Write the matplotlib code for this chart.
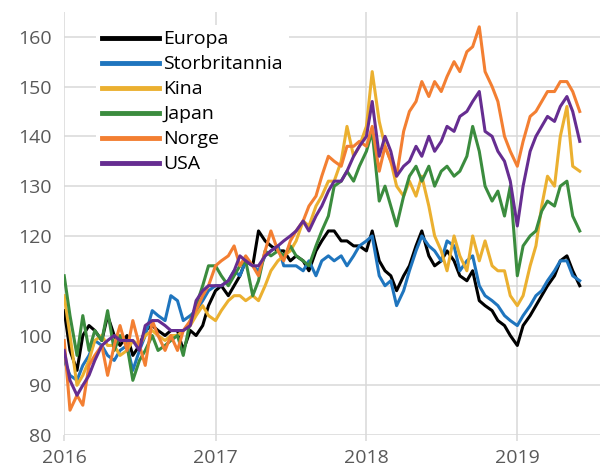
import numpy as np
import pandas as pd
import matplotlib
matplotlib.use('Agg')
import matplotlib.pyplot as plt
import matplotlib.dates as mdates

plt.rcParams['font.family'] = ['Open Sans', 'DejaVu Sans']

# indeks, halvmaanedlige observasjoner fra jan 2016
dates = pd.date_range('2016-01-01', periods=83, freq='SMS')

europa = [105, 97, 93, 100, 102, 101, 99, 104, 100, 98, 100, 96, 98, 101, 102, 101,
          100, 101, 101, 97, 101, 100, 102, 106, 109, 110, 108, 110, 112, 115, 114, 121,
          119, 118, 117, 117, 115, 116, 115, 113, 117, 119, 121, 121, 119, 119, 118, 118,
          117, 121, 115, 113, 112, 109, 112, 114, 118, 121, 116, 114, 115, 117, 115, 112,
          111, 113, 107, 106, 105, 103, 102, 100, 98, 102, 104, 106, 108, 110, 112, 115,
          116, 113, 110]
storbritannia = [95, 92, 91, 94, 96, 99, 98, 96, 95, 97, 98, 93, 97, 100, 105, 104,
                 103, 108, 107, 103, 104, 105, 107, 109, 110, 110, 111, 113, 112, 115, 114, 113,
                 116, 117, 118, 114, 114, 114, 113, 115, 112, 115, 116, 115, 116, 114, 116, 118,
                 119, 120, 112, 110, 111, 106, 109, 113, 117, 120, 118, 117, 115, 119, 118, 113,
                 115, 116, 110, 108, 107, 106, 104, 103, 102, 104, 106, 108, 109, 111, 113, 115,
                 115, 112, 111]
kina = [108, 100, 90, 92, 95, 99, 100, 98, 98, 96, 97, 99, 98, 100, 101, 100,
        99, 100, 100, 101, 102, 104, 106, 104, 103, 105, 107, 108, 108, 107, 108, 107,
        110, 113, 115, 116, 117, 119, 123, 122, 126, 128, 131, 131, 135, 142, 136, 138,
        142, 153, 143, 138, 135, 130, 128, 131, 128, 132, 126, 120, 117, 113, 120, 116,
        113, 120, 115, 119, 114, 113, 113, 108, 106, 108, 114, 118, 126, 132, 130, 140,
        146, 134, 133]
japan = [112, 104, 96, 104, 97, 101, 99, 105, 97, 100, 98, 91, 95, 97, 100, 97,
         98, 99, 100, 96, 103, 106, 110, 114, 114, 112, 110, 112, 114, 115, 108, 111,
         117, 116, 117, 116, 118, 116, 115, 114, 118, 121, 124, 130, 131, 133, 131, 134,
         137, 141, 127, 130, 126, 122, 128, 132, 134, 131, 134, 130, 133, 134, 132, 133,
         136, 142, 137, 130, 127, 129, 124, 130, 112, 118, 120, 121, 125, 127, 126, 130,
         131, 124, 121]
norge = [99, 85, 88, 86, 94, 96, 98, 92, 98, 102, 97, 103, 98, 94, 103, 100,
         97, 100, 97, 101, 103, 105, 108, 110, 114, 115, 116, 118, 114, 116, 114, 112,
         117, 121, 117, 115, 119, 121, 123, 126, 128, 132, 136, 135, 134, 138, 138, 139,
         138, 142, 133, 138, 135, 132, 141, 145, 147, 151, 148, 151, 149, 152, 155, 153,
         157, 158, 162, 153, 150, 147, 140, 137, 134, 139, 144, 145, 147, 149, 149, 151,
         151, 149, 145]
usa = [97, 91, 88, 90, 92, 95, 98, 99, 100, 99, 99, 99, 97, 102, 103, 103,
       102, 101, 101, 101, 102, 107, 109, 110, 110, 110, 111, 113, 116, 115, 114, 114,
       116, 117, 118, 119, 120, 121, 123, 121, 124, 126, 129, 131, 131, 133, 136, 138,
       140, 147, 136, 140, 137, 132, 134, 135, 138, 136, 140, 137, 139, 142, 141, 144,
       145, 147, 149, 141, 140, 137, 135, 131, 122, 130, 137, 140, 142, 144, 143, 146,
       148, 145, 139]

series = [('Europa', europa, '#000000'),
          ('Storbritannia', storbritannia, '#1f75be'),
          ('Kina', kina, '#ebb030'),
          ('Japan', japan, '#3b8c3e'),
          ('Norge', norge, '#f37f32'),
          ('USA', usa, '#662d91')]

fig = plt.figure(figsize=(6, 4.75), dpi=100)
ax = fig.add_axes([0.107, 0.084, 0.893, 0.891])

for name, vals, col in series:
    ax.plot(dates, vals, color=col, lw=2.2, label=name)

ax.set_ylim(80, 165)
ax.set_yticks(range(80, 161, 10))
ax.set_xlim(pd.Timestamp('2016-01-01'), pd.Timestamp('2019-07-20'))
ax.xaxis.set_major_locator(mdates.YearLocator())
ax.xaxis.set_major_formatter(mdates.DateFormatter('%Y'))

ax.grid(True, color='#d9d9d9', lw=1.1)
ax.set_axisbelow(True)
for s in ax.spines.values():
    s.set_visible(False)
ax.tick_params(axis='x', length=4, color='#d9d9d9', width=1.1, labelsize=14,
               labelcolor='#595959', pad=6)
ax.tick_params(axis='y', length=0, labelsize=14, labelcolor='#595959', pad=9)

leg = ax.legend(loc='upper left', bbox_to_anchor=(0.06, 0.97), fontsize=14,
                frameon=True, framealpha=1, edgecolor='none', fancybox=False,
                handlelength=2.9, handletextpad=0.25, labelspacing=0.36,
                borderpad=0.3, borderaxespad=0)
for line in leg.get_lines():
    line.set_linewidth(3.5)

fig.savefig('out.png', dpi=100)
